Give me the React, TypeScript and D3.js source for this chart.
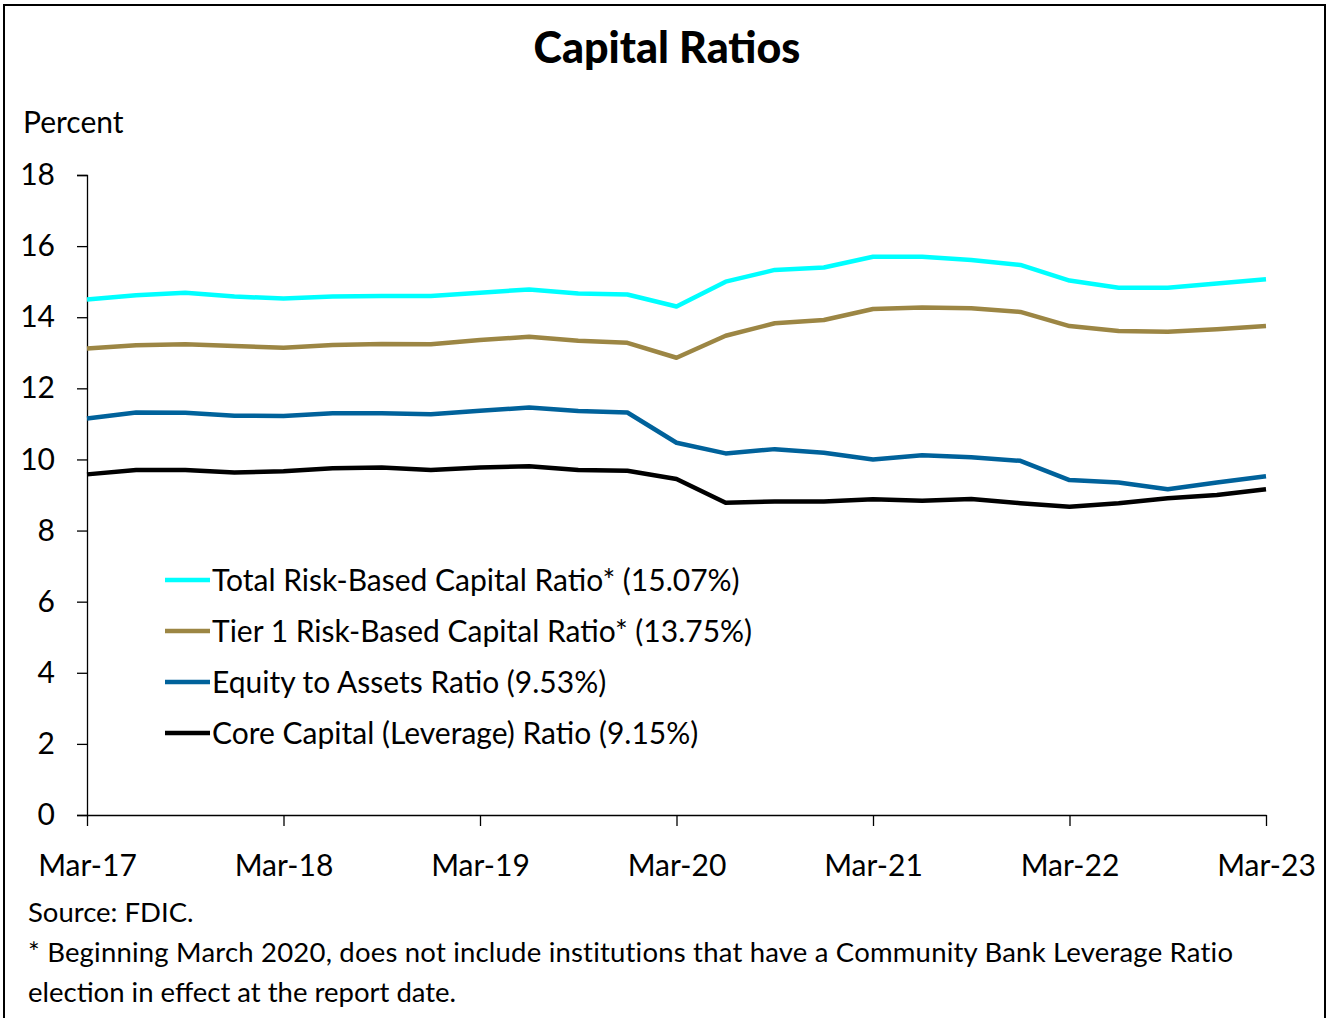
import { useEffect, useRef } from 'react'
import * as d3 from 'd3'

const quarters = [
  'Mar-17', 'Jun-17', 'Sep-17', 'Dec-17',
  'Mar-18', 'Jun-18', 'Sep-18', 'Dec-18',
  'Mar-19', 'Jun-19', 'Sep-19', 'Dec-19',
  'Mar-20', 'Jun-20', 'Sep-20', 'Dec-20',
  'Mar-21', 'Jun-21', 'Sep-21', 'Dec-21',
  'Mar-22', 'Jun-22', 'Sep-22', 'Dec-22',
  'Mar-23',
]

const totalRiskBased = [
  14.5, 14.62, 14.69, 14.58, 14.53, 14.58, 14.6, 14.6, 14.69, 14.78, 14.67, 14.64,
  14.3, 15.0, 15.33, 15.4, 15.7, 15.7, 15.61, 15.47, 15.03, 14.83, 14.83, 14.95, 15.07,
]
const tier1RiskBased = [
  13.12, 13.21, 13.24, 13.19, 13.14, 13.22, 13.25, 13.24, 13.36, 13.45, 13.34, 13.28,
  12.86, 13.48, 13.83, 13.92, 14.23, 14.27, 14.25, 14.15, 13.75, 13.61, 13.59, 13.66, 13.75,
]
const equityToAssets = [
  11.15, 11.32, 11.31, 11.23, 11.22, 11.3, 11.3, 11.27, 11.37, 11.46, 11.36, 11.32,
  10.47, 10.17, 10.29, 10.19, 10.0, 10.12, 10.06, 9.96, 9.42, 9.35, 9.16, 9.35, 9.53,
]
const coreCapital = [
  9.58, 9.7, 9.7, 9.63, 9.67, 9.75, 9.77, 9.7, 9.77, 9.81, 9.7, 9.68,
  9.45, 8.78, 8.82, 8.82, 8.88, 8.84, 8.89, 8.77, 8.67, 8.77, 8.91, 9.0, 9.16,
]

const seriesNames = [
  'Total Risk-Based Capital Ratio* (15.07%)',
  'Tier 1 Risk-Based Capital Ratio* (13.75%)',
  'Equity to Assets Ratio (9.53%)',
  'Core Capital (Leverage) Ratio (9.15%)',
]
const seriesColors = ['#00ffff', '#9c8644', '#00629b', '#000000']
const yTicks = [0, 2, 4, 6, 8, 10, 12, 14, 16, 18]
const xTickLabels = ['Mar-17', 'Mar-18', 'Mar-19', 'Mar-20', 'Mar-21', 'Mar-22', 'Mar-23']

const FONT = 'Lato, "Noto Sans", sans-serif'

export default function App() {
  const svgRef = useRef<SVGSVGElement | null>(null)
  const width = 1328
  const height = 1018

  useEffect(() => {
    if (!svgRef.current) return
    const svg = d3.select(svgRef.current)
    svg.selectAll('*').remove()

    const left = 87
    const right = 1266
    const top = 175
    const bottom = 815

    // frame
    svg.append('rect')
      .attr('x', 4).attr('y', 5)
      .attr('width', 1321).attr('height', 1030)
      .attr('fill', 'white')
      .attr('stroke', '#000').attr('stroke-width', 2)

    svg.append('text')
      .attr('x', 667).attr('y', 63)
      .attr('text-anchor', 'middle')
      .attr('font-family', FONT).attr('font-weight', 900).attr('font-size', 43)
      .text('Capital Ratios')

    svg.append('text')
      .attr('x', 23).attr('y', 133)
      .attr('font-family', FONT).attr('font-size', 30)
      .text('Percent')

    const x = d3.scalePoint<string>().domain(quarters).range([left, right])
    const y = d3.scaleLinear().domain([0, 18]).range([bottom, top])

    const yAxis = svg.append('g')
      .attr('transform', `translate(${left},0)`)
      .call(d3.axisLeft(y).tickValues(yTicks).tickSize(10).tickPadding(22).tickFormat(d3.format('d')))
    yAxis.select('.domain').attr('stroke', '#000').attr('stroke-width', 1.3)
    yAxis.selectAll('.tick line').attr('stroke', '#000').attr('stroke-width', 1.3)
    yAxis.selectAll('.tick text')
      .attr('font-family', FONT).attr('font-size', 30).attr('fill', '#000')

    const xAxis = svg.append('g')
      .attr('transform', `translate(0,${bottom})`)
      .call(d3.axisBottom(x).tickValues(xTickLabels).tickSize(11).tickSizeOuter(0).tickPadding(29))
    xAxis.select('.domain').attr('stroke', '#000').attr('stroke-width', 1.3)
    xAxis.selectAll('.tick line').attr('stroke', '#000').attr('stroke-width', 1.3)
    xAxis.selectAll('.tick text')
      .attr('font-family', FONT).attr('font-size', 30).attr('fill', '#000')

    const allSeries = [totalRiskBased, tier1RiskBased, equityToAssets, coreCapital]
    const line = d3.line<number>()
      .x((_, i) => x(quarters[i]) ?? 0)
      .y(d => y(d))

    allSeries.forEach((values, i) => {
      svg.append('path')
        .datum(values)
        .attr('d', line)
        .attr('fill', 'none')
        .attr('stroke', seriesColors[i])
        .attr('stroke-width', 4.5)
        .attr('stroke-linejoin', 'round')
    })

    // legend
    const legend = svg.append('g')
    seriesNames.forEach((name, i) => {
      const ly = 580 + i * 51
      legend.append('line')
        .attr('x1', 165).attr('x2', 210)
        .attr('y1', ly).attr('y2', ly)
        .attr('stroke', seriesColors[i]).attr('stroke-width', 4.5)
      legend.append('text')
        .attr('x', 212).attr('y', ly + 11)
        .attr('font-family', FONT).attr('font-size', 30)
        .text(name)
    })

    const noteLines = [
      'Source: FDIC.',
      '* Beginning March 2020, does not include institutions that have a Community Bank Leverage Ratio',
      'election in effect at the report date.',
    ]
    noteLines.forEach((t, i) => {
      svg.append('text')
        .attr('x', 28).attr('y', 922 + i * 40)
        .attr('font-family', FONT).attr('font-size', 27.5)
        .attr('letter-spacing', i === 1 ? 0.2 : 0)
        .text(t)
    })
  }, [])

  return (
    <svg
      ref={svgRef}
      width={width}
      height={height}
      style={{ position: 'absolute', left: 0, top: 0, background: '#fff' }}
    />
  )
}
